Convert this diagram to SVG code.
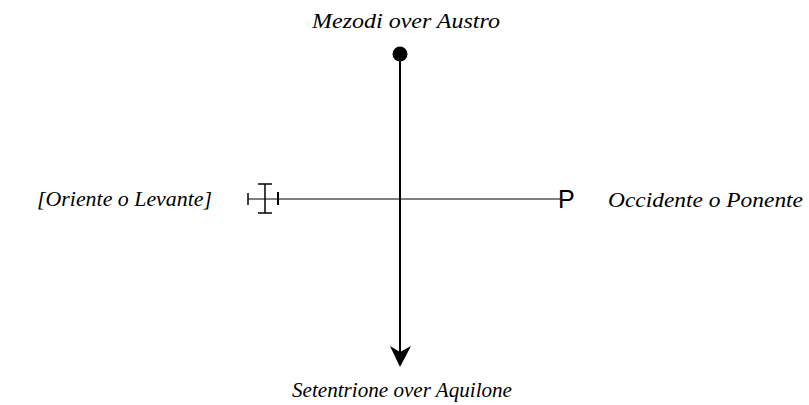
<svg xmlns="http://www.w3.org/2000/svg" width="809" height="405" viewBox="0 0 809 405">
<style>
.lbl{font-family:"Liberation Serif","Times New Roman",serif;font-style:italic;font-size:22px;fill:#000}
.ln{stroke:#000;fill:none}
</style>
<rect width="809" height="405" fill="#fff"/>
<g id="labels">
<text class="lbl" x="312" y="28" textLength="188" lengthAdjust="spacingAndGlyphs">Mezodi over Austro</text>
<text class="lbl" x="292" y="397" textLength="220" lengthAdjust="spacingAndGlyphs">Setentrione over Aquilone</text>
<text class="lbl" x="37" y="206" textLength="175" lengthAdjust="spacingAndGlyphs">[Oriente o Levante]</text>
<text class="lbl" x="608" y="207" textLength="195" lengthAdjust="spacingAndGlyphs">Occidente o Ponente</text>
</g>
<g id="connectors">
<line class="ln" x1="400" y1="54" x2="400" y2="360" stroke-width="2"/>
<line class="ln" x1="248" y1="199" x2="560" y2="199" stroke-width="1"/>
</g>
<g id="south-dot"><circle cx="400" cy="54" r="7.5" fill="#000"/></g>
<g id="north-arrow"><path d="M390,346 L400,352 L411,346 L400,367 Z" fill="#000"/></g>
<g id="east-cross">
<line class="ln" x1="248" y1="193" x2="248" y2="205" stroke-width="1.5"/>
<line class="ln" x1="265" y1="184" x2="265" y2="213" stroke-width="1.5"/>
<line class="ln" x1="258" y1="184" x2="272" y2="184" stroke-width="1.5"/>
<line class="ln" x1="258" y1="213" x2="272" y2="213" stroke-width="1.5"/>
<line class="ln" x1="278" y1="192" x2="278" y2="205" stroke-width="2"/>
</g>
<g id="west-p"><text x="558" y="208" font-family="Liberation Sans, Arial, sans-serif" font-size="25" fill="#000">P</text></g>
</svg>
